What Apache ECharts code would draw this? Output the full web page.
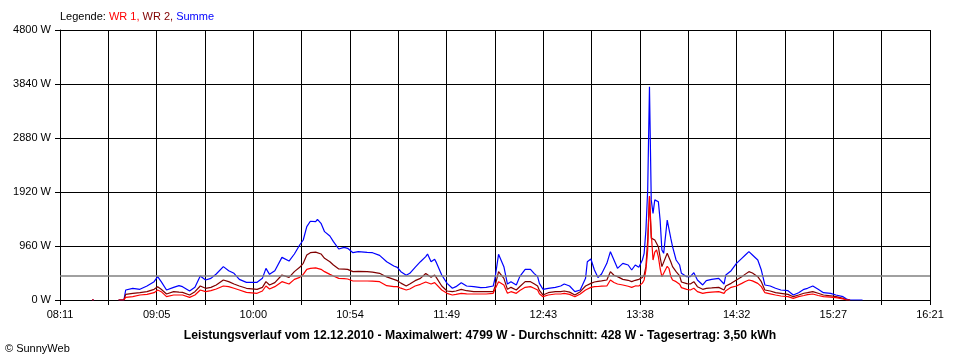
<!DOCTYPE html>
<html><head><meta charset="utf-8">
<script src="https://cdn.jsdelivr.net/npm/echarts@6/dist/echarts.min.js"></script>
<style>html,body{margin:0;padding:0;background:#fff}#c{width:960px;height:360px}</style>
</head><body><div id="c"></div>
<script>
const times=["08:29","08:30","08:31","08:44","08:47","08:48","08:52","08:56","09:00","09:04","09:06","09:08","09:11","09:15","09:18","09:20","09:24","09:27","09:30","09:33","09:36","09:39","09:43","09:46","09:49","09:52","09:56","10:02","10:05","10:07","10:09","10:12","10:16","10:20","10:23","10:26","10:28","10:30","10:32","10:35","10:36","10:38","10:40","10:43","10:45","10:48","10:51","10:53","10:56","10:59","11:04","11:07","11:11","11:15","11:19","11:21","11:23","11:26","11:28","11:31","11:34","11:37","11:38","11:40","11:42","11:43","11:46","11:49","11:52","11:54","11:57","12:00","12:04","12:08","12:11","12:15","12:16","12:18","12:21","12:23","12:25","12:28","12:30","12:33","12:36","12:38","12:40","12:41","12:43","12:46","12:50","12:53","12:55","12:58","13:01","13:04","13:07","13:08","13:10","13:12","13:14","13:16","13:19","13:21","13:23","13:25","13:28","13:31","13:33","13:35","13:37","13:39","13:40","13:41","13:42","13:43","13:44","13:45","13:46","13:47","13:48","13:49","13:50","13:51","13:53","13:54","13:55","13:56","13:58","14:00","14:01","14:04","14:06","14:08","14:10","14:13","14:15","14:18","14:22","14:25","14:26","14:29","14:32","14:35","14:37","14:39","14:41","14:42","14:44","14:46","14:48","14:51","14:54","14:57","15:01","15:04","15:07","15:10","15:12","15:15","15:18","15:21","15:25","15:28","15:32","15:34","15:36","15:43"];
const summe=[0,0,null,0,0,178,208,190,249,326,415,326,178,225,255,237,160,225,427,356,385,462,593,521,474,367,314,314,385,563,456,521,758,693,818,978,1067,1304,1400,1393,1434,1363,1215,1138,1037,907,936,919,841,859,847,841,794,681,604,581,504,439,474,581,681,770,818,681,723,664,444,296,208,237,308,249,237,219,225,249,385,812,593,284,326,267,420,545,545,474,415,296,190,208,225,249,284,249,148,178,385,681,729,533,400,462,652,859,711,563,652,622,533,622,581,711,830,1244,1956,3790,1780,1541,1780,1808,1748,1420,889,830,1422,1393,1100,948,711,622,474,415,415,486,356,267,344,367,385,284,444,521,652,741,800,859,800,800,711,533,267,249,208,178,166,89,130,190,208,249,190,130,119,89,59,18,0,0];
const wr2=[0,0,null,0,0,101,119,130,148,190,237,190,107,148,140,136,89,148,249,208,225,267,356,326,284,249,208,190,225,326,267,308,444,403,504,581,652,800,841,850,859,818,741,681,622,551,550,545,504,510,504,495,474,410,367,344,300,249,284,344,385,470,486,403,444,397,249,160,148,160,190,165,148,148,148,148,237,504,385,190,225,178,240,326,326,290,249,170,89,130,148,148,160,140,89,148,249,270,296,320,330,340,356,504,440,415,367,350,326,350,367,400,444,593,1067,1840,1100,1067,1067,1067,948,760,593,563,830,800,680,593,504,430,320,290,284,326,237,190,208,215,225,178,249,296,356,415,460,504,480,462,415,326,178,160,130,119,100,59,89,120,130,148,120,89,75,59,30,0,0,null];
const wr1=[0,0,null,0,0,47,59,89,101,130,178,148,59,89,89,89,47,89,178,148,166,196,249,237,208,178,136,119,160,249,196,237,326,284,367,403,456,545,563,570,581,545,504,456,427,385,380,373,338,338,338,335,326,255,237,237,210,178,196,249,279,320,326,284,308,279,178,119,89,100,119,110,107,107,107,119,190,326,267,119,148,119,170,225,237,210,178,110,59,89,107,107,119,100,59,107,178,200,225,237,240,245,249,356,310,284,267,245,225,250,249,300,356,533,889,1850,1190,711,850,889,770,560,415,385,600,560,420,356,326,280,220,190,178,208,148,119,130,140,148,119,166,225,249,296,330,356,340,326,296,237,130,110,89,71,60,30,59,80,95,107,80,59,50,41,20,0,0,null];
const xTickLabels=["08:11","09:05","10:00","10:54","11:49","12:43","13:38","14:32","15:27","16:21"];
const averageW=428;
const START=8*60+11, SPAN=490, STEPS=18, STEP=SPAN/STEPS;
function toMin(s){const p=s.split(':').map(Number);return p[0]*60+p[1]-START;}
function pairs(vals){return times.map((t,i)=>[toMin(t),vals[i]]);}
const FONT='Liberation Sans';
const chart=echarts.init(document.getElementById('c'),null,{renderer:'canvas'});
chart.setOption({
  animation:false,
  backgroundColor:'#fff',
  title:[
    {text:'{k|Legende: }{a|WR 1, }{b|WR 2, }{c|Summe}',left:60,top:11,padding:0,
     textStyle:{fontFamily:FONT,fontSize:11,fontWeight:'normal',rich:{
       k:{color:'#000',fontFamily:FONT,fontSize:11},
       a:{color:'#ff0000',fontFamily:FONT,fontSize:11},
       b:{color:'#800000',fontFamily:FONT,fontSize:11},
       c:{color:'#0000ff',fontFamily:FONT,fontSize:11}}}},
    {text:'Leistungsverlauf vom 12.12.2010 - Maximalwert: 4799 W - Durchschnitt: 428 W - Tagesertrag: 3,50 kWh',
     left:'center',top:330,padding:0,textStyle:{fontFamily:FONT,fontSize:12.2,fontWeight:'bold',color:'#000'}},
    {text:'© SunnyWeb',left:5,top:343,padding:0,textStyle:{fontFamily:FONT,fontSize:11,fontWeight:'normal',color:'#000'}}
  ],
  grid:{left:60,right:30,top:30,bottom:60,containLabel:false},
  xAxis:{type:'value',min:0,max:SPAN,interval:STEP,
    axisLine:{show:true,lineStyle:{color:'#000',width:1}},
    axisTick:{show:true,length:5,lineStyle:{color:'#000',width:1}},
    splitLine:{show:true,lineStyle:{color:'#000',width:1}},
    axisLabel:{color:'#000',fontFamily:FONT,fontSize:11,margin:9,showMinLabel:true,showMaxLabel:true,hideOverlap:false,
      formatter:function(v){const i=Math.round(v/STEP);return i%2===0?(xTickLabels[i/2]||''):'';}}},
  yAxis:{type:'value',min:0,max:4800,interval:960,
    axisLine:{show:true,lineStyle:{color:'#000',width:1}},
    axisTick:{show:true,length:5,lineStyle:{color:'#000',width:1}},
    splitLine:{show:true,lineStyle:{color:'#000',width:1}},
    axisLabel:{color:'#000',fontFamily:FONT,fontSize:11,margin:9,formatter:function(v){return String(v)+' W';}}},
  series:[
    {name:'Summe',type:'line',data:pairs(summe),showSymbol:false,symbol:'none',connectNulls:false,
     lineStyle:{color:'#0000ff',width:1.2},itemStyle:{color:'#0000ff'},
     markLine:{silent:true,symbol:'none',label:{show:false},lineStyle:{color:'#808080',width:1.5,type:'solid'},data:[{yAxis:averageW}]}},
    {name:'WR 2',type:'line',data:pairs(wr2),showSymbol:false,symbol:'none',connectNulls:false,
     lineStyle:{color:'#800000',width:1.2},itemStyle:{color:'#800000'}},
    {name:'WR 1',type:'line',data:pairs(wr1),showSymbol:false,symbol:'none',connectNulls:false,
     lineStyle:{color:'#ff0000',width:1.2},itemStyle:{color:'#ff0000'}}
  ]
});
</script></body></html>
